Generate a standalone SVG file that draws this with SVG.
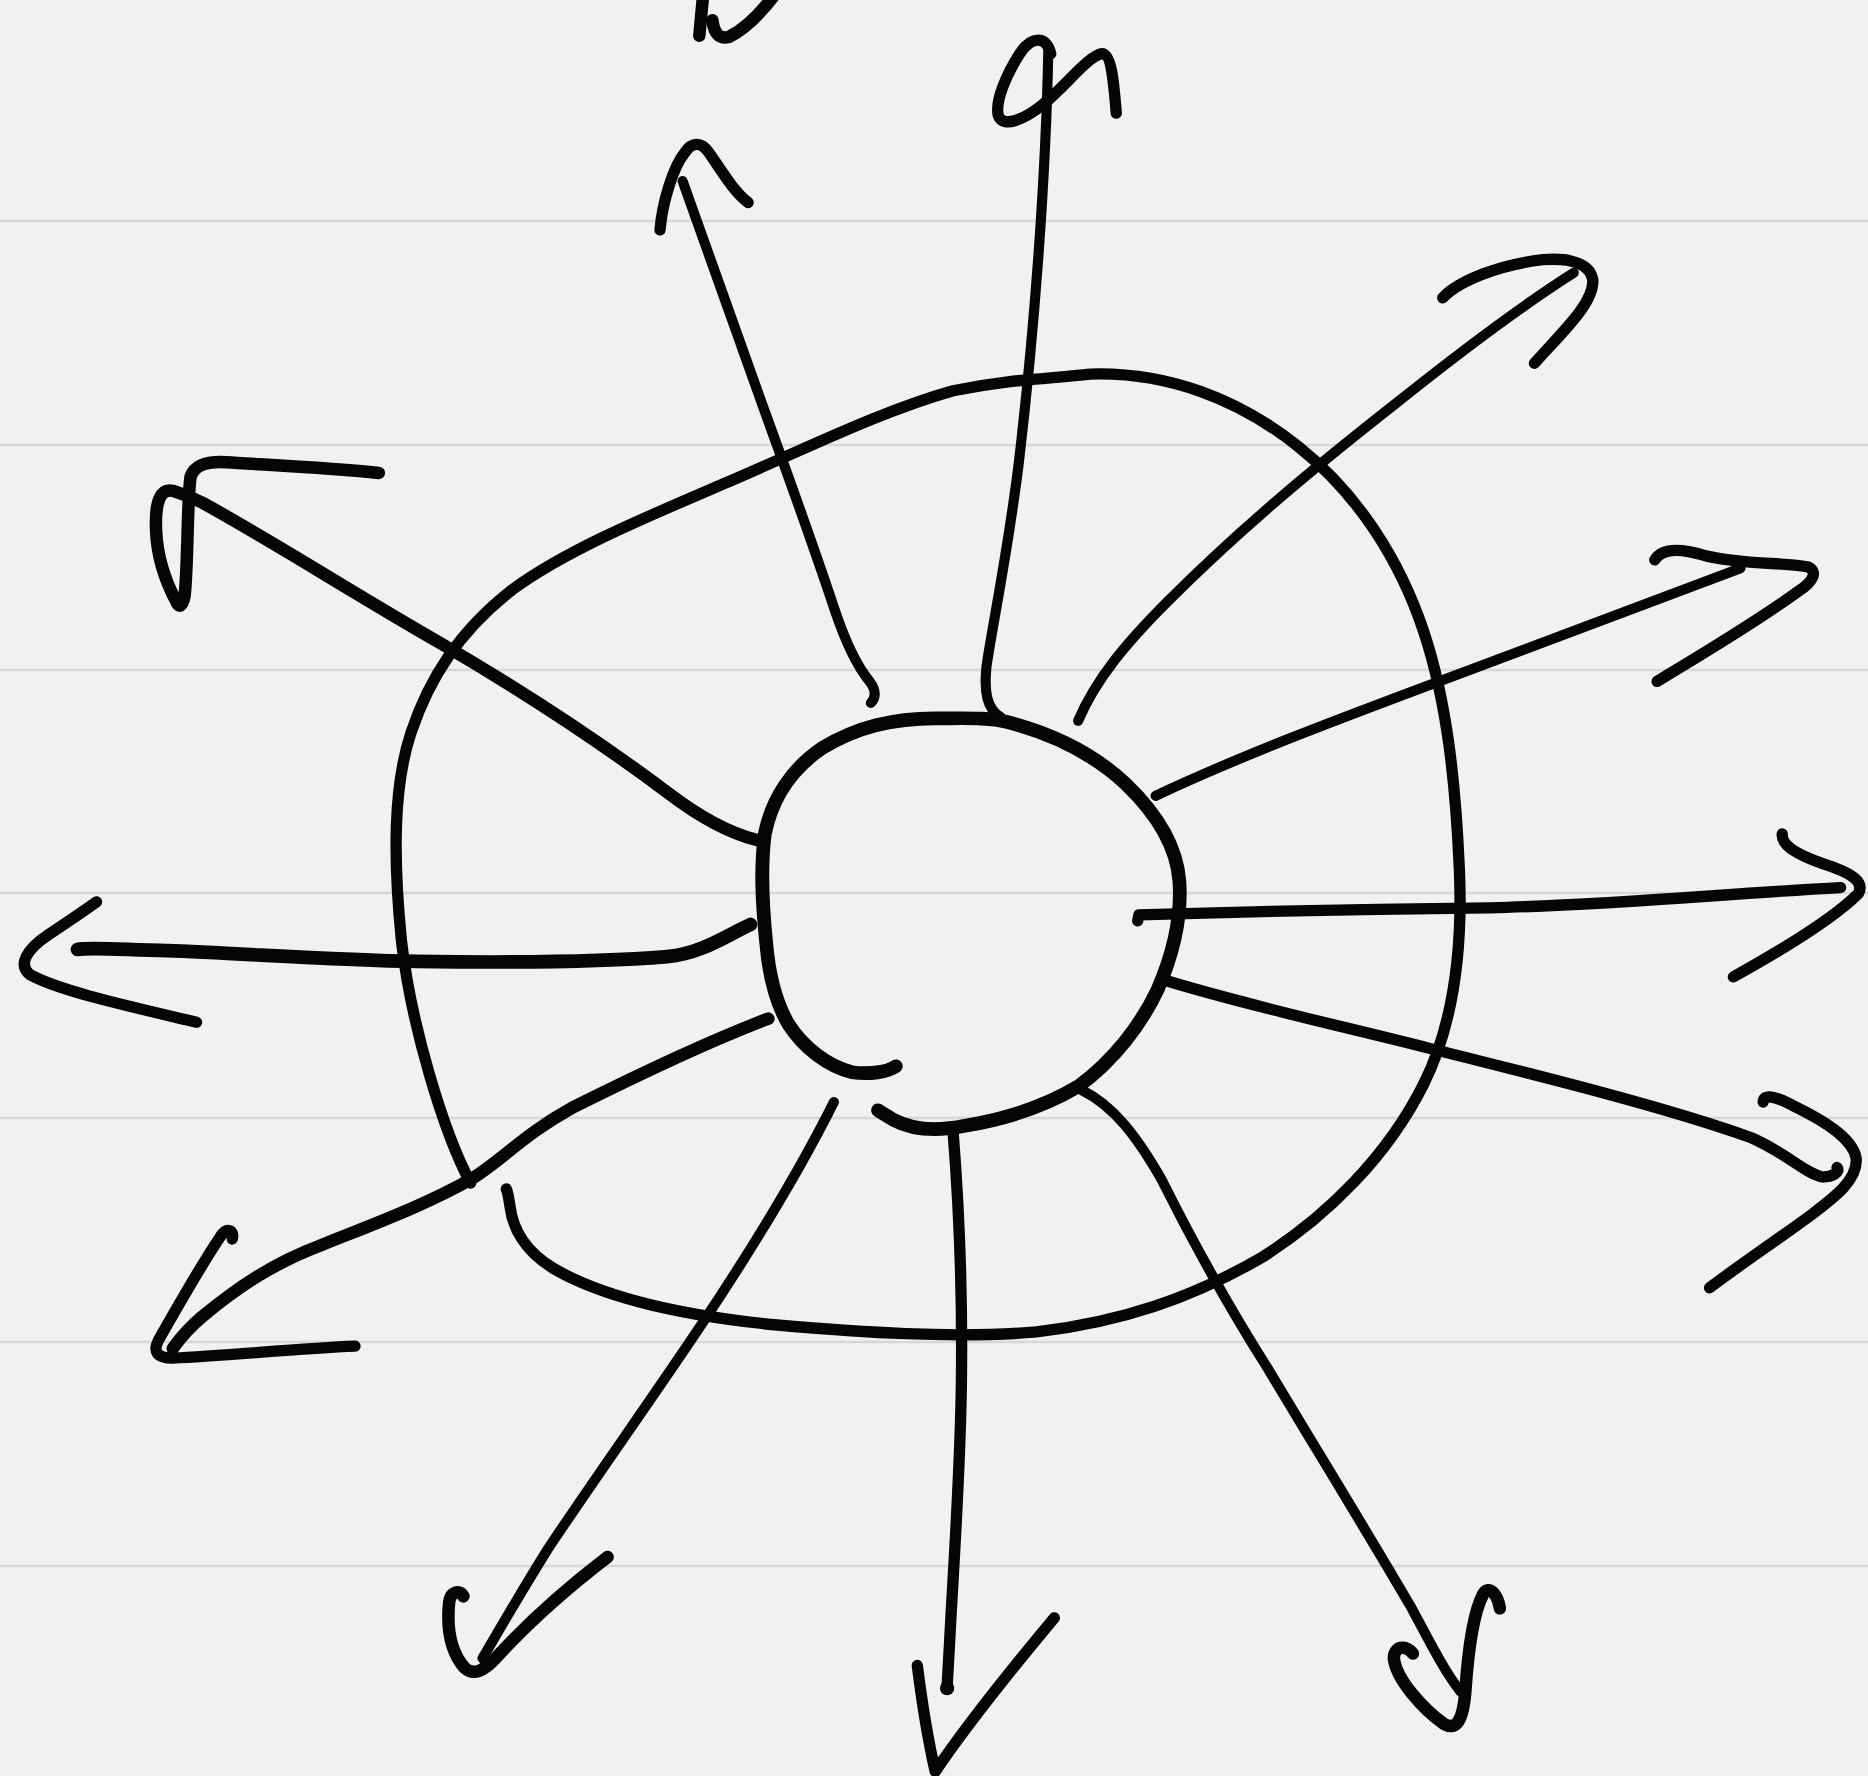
<svg xmlns="http://www.w3.org/2000/svg" width="1868" height="1776" viewBox="0 0 1868 1776">
<style>
.rule{stroke:#d7d7d7;stroke-width:2.5;fill:none}
.ink{fill:none;stroke:#050505;stroke-linecap:round;stroke-linejoin:round;stroke-width:9.5}
.thin{stroke-width:8.5}
.thick{stroke-width:10.5}
.heavy{stroke-width:11.5}
</style>
<rect x="0" y="0" width="1868" height="1776" fill="#f1f1f1"/>
<g id="rules">
<line class="rule" x1="0" y1="221" x2="1868" y2="221"/>
<line class="rule" x1="0" y1="445" x2="1868" y2="445"/>
<line class="rule" x1="0" y1="670" x2="1868" y2="670"/>
<line class="rule" x1="0" y1="893" x2="1868" y2="893"/>
<line class="rule" x1="0" y1="1118" x2="1868" y2="1118"/>
<line class="rule" x1="0" y1="1342" x2="1868" y2="1342"/>
<line class="rule" x1="0" y1="1566" x2="1868" y2="1566"/>
</g>
<g transform="scale(1.19133)">
<g id="outer-ring">
<path class="ink" d="M395,993 C372,950 345,860 337,790 C330,720 330,660 345,615 C360,570 385,530 430,495 C475,462 540,435 610,405 C680,375 740,345 800,328 C850,318 880,318 915,314 C980,312 1040,335 1090,375 C1140,415 1175,470 1195,530 C1215,590 1222,660 1225,730 C1228,800 1220,860 1195,910 C1165,970 1115,1020 1060,1055 C1000,1090 940,1110 870,1118 C800,1124 720,1118 650,1112 C570,1104 505,1088 465,1065 C440,1050 430,1030 428,1012 C427,1005 426,1000 425,998"/>
</g>
<g id="inner-circle">
<path class="ink heavy" d="M752,895 C745,900 730,902 715,900 C695,895 675,880 662,860 C650,840 645,815 643,790 C640,760 638,730 642,700 C648,670 665,645 690,628 C720,610 750,603 785,603 C810,603 830,602 845,606 C880,615 915,630 945,658 C970,682 988,710 990,740 C992,770 985,800 972,830 C958,860 935,890 905,912 C875,930 840,940 810,945 C785,950 765,948 750,940 C745,937 740,934 737,932"/>
</g>
<g id="connectors">
<g id="ray-top-mark">
<path class="ink thick" d="M590,-2 L587,30"/>
<path class="ink thick" d="M598,17 Q600,34 612,31 Q630,22 650,-4"/>
</g>
<g id="ray-n">
<path class="ink" d="M882,45 C878,30 866,30 856,45 C845,62 835,85 838,97 C842,108 860,100 875,88 C895,72 912,48 925,45 C933,45 935,70 937,95"/>
<path class="ink thin" d="M880,40 C878,150 868,280 855,390 C845,470 832,530 828,560 C826,580 828,595 840,602"/>
</g>
<g id="ray-nnw">
<path class="ink" d="M554,193 C556,170 565,140 575,128 C580,120 588,118 595,128 C605,142 615,160 628,170"/>
<path class="ink thin" d="M573,152 C590,200 615,270 640,340 C660,395 680,450 700,510 C710,540 720,560 730,572 C736,580 735,586 731,590"/>
</g>
<g id="ray-ne">
<path class="ink" d="M1211,250 C1225,235 1260,222 1295,218 C1320,216 1335,222 1337,235 C1338,255 1310,280 1288,305"/>
<path class="ink thin" d="M1321,229 C1280,255 1220,300 1170,340 C1100,395 1040,445 980,505 C945,540 920,570 905,605"/>
</g>
<g id="ray-ene">
<path class="ink" d="M1389,470 C1395,460 1410,460 1430,466 C1460,474 1500,472 1518,476 C1526,480 1522,488 1510,496 C1470,525 1430,548 1391,572"/>
<path class="ink thin" d="M1461,477 C1400,500 1300,537 1200,575 C1120,605 1040,635 970,668"/>
</g>
<g id="ray-e">
<path class="ink" d="M1496,700 C1495,710 1510,718 1530,725 C1555,733 1565,740 1560,750 C1540,770 1500,795 1455,820"/>
<path class="ink" d="M955,773 L956,768 C1050,765 1150,763 1250,762 C1350,760 1450,750 1545,745"/>
</g>
<g id="ray-ese">
<path class="ink" d="M975,822 C1050,845 1130,862 1200,880 C1300,905 1400,930 1470,955 C1500,968 1515,985 1530,988 C1538,988 1545,984 1542,980"/>
<path class="ink" d="M1480,925 C1480,918 1490,920 1505,928 C1530,940 1555,955 1558,972 C1560,990 1540,1005 1520,1020 C1490,1042 1460,1062 1435,1081"/>
</g>
<g id="ray-sse">
<path class="ink thin" d="M908,915 C935,928 955,955 975,990 C1000,1040 1030,1095 1065,1150 C1110,1225 1150,1290 1185,1350 C1200,1378 1212,1402 1226,1420"/>
<path class="ink thick" d="M1186,1388 C1180,1380 1170,1382 1170,1392 C1172,1410 1195,1435 1212,1447 C1222,1453 1228,1445 1230,1420 C1232,1390 1236,1355 1245,1338 C1250,1330 1257,1338 1259,1350"/>
</g>
<g id="ray-s">
<path class="ink" d="M800,950 C804,1000 808,1080 807,1160 C806,1240 800,1320 797,1380 L795,1416"/>
<circle cx="795" cy="1417" r="6" fill="#050505"/>
<path class="ink" d="M770,1398 C774,1430 780,1465 785,1487 C810,1450 850,1400 885,1358"/>
</g>
<g id="ray-ssw">
<path class="ink thin" d="M700,925 C670,985 630,1050 590,1110 C550,1170 500,1240 460,1300 C435,1340 418,1370 405,1392"/>
<path class="ink thick" d="M389,1340 C386,1334 378,1336 377,1345 C375,1365 377,1385 390,1400 C398,1407 406,1402 415,1393 C445,1360 480,1330 510,1307"/>
</g>
<g id="ray-sw">
<path class="ink thick" d="M645,855 C600,872 540,900 480,930 C440,952 420,975 395,990 C360,1010 320,1025 270,1045 C230,1060 200,1080 170,1105 C158,1115 150,1125 145,1132"/>
<path class="ink" d="M195,1040 C197,1032 190,1030 185,1038 C170,1060 150,1095 133,1125 C128,1135 132,1140 145,1140 C190,1138 250,1132 298,1130"/>
</g>
<g id="ray-w">
<path class="ink heavy" d="M630,776 C610,785 590,800 560,803 C500,808 420,808 350,807 C280,806 200,800 140,798 C100,797 75,795 65,797"/>
<path class="ink" d="M81,757 C70,765 55,775 40,785 C22,797 15,810 25,818 C50,832 110,845 165,858"/>
</g>
<g id="ray-nw">
<path class="ink thick" d="M318,397 C280,393 220,390 190,388 C170,387 163,392 160,400 C157,420 158,470 155,500 C153,510 150,510 148,505 C140,490 132,470 131,445 C130,420 135,410 145,412 C155,415 162,418 170,422 C230,455 300,500 370,540 C430,575 500,620 560,665 C590,688 615,700 635,705"/>
</g>
</g>
</g>
</svg>
